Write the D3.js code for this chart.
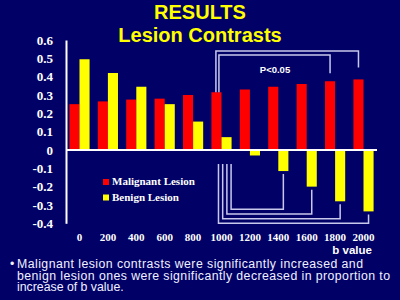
<!DOCTYPE html>
<html>
<head>
<meta charset="utf-8">
<script src="https://cdn.jsdelivr.net/npm/d3@7"></script>
<style>
  body { margin: 0; background: #000066; }
  svg { display: block; }
</style>
</head>
<body>
<div id="chart"></div>
<script>
// data
var bValues = ["0", "200", "400", "600", "800", "1000", "1200", "1400", "1600", "1800", "2000"];
var malignant = [0.25, 0.265, 0.275, 0.28, 0.3, 0.315, 0.33, 0.345, 0.36, 0.375, 0.385];
var benign = [0.495, 0.42, 0.345, 0.25, 0.155, 0.07, -0.03, -0.115, -0.2, -0.28, -0.335];
var yTicks = [-0.4, -0.3, -0.2, -0.1, 0, 0.1, 0.2, 0.3, 0.4, 0.5, 0.6];
var seriesNames = ["Malignant Lesion", "Benign Lesion"];
var seriesColors = ["#ff0000", "#ffff00"];
// significance brackets (from b value -> to b value)
var malignantPairs = [["1000", "2000"], ["1000", "1800"]];
var benignPairs = [["1000", "1400"], ["1000", "1600"], ["1000", "1800"], ["1000", "2000"]];

var width = 400, height = 300;

var svg = d3.select("#chart")
  .append("svg")
    .attr("width", width)
    .attr("height", height);

svg.append("rect")
  .attr("width", width)
  .attr("height", height)
  .attr("fill", "#000066");

// title
svg.append("text")
  .attr("x", 200).attr("y", 18.5)
  .attr("text-anchor", "middle")
  .attr("font-family", "Liberation Sans, Arial, sans-serif")
  .attr("font-weight", "bold")
  .attr("font-size", "20px")
  .attr("fill", "#ffff00")
  .text("RESULTS");
svg.append("text")
  .attr("x", 200).attr("y", 41.5)
  .attr("text-anchor", "middle")
  .attr("font-family", "Liberation Sans, Arial, sans-serif")
  .attr("font-weight", "bold")
  .attr("font-size", "20px")
  .attr("fill", "#ffff00")
  .text("Lesion Contrasts");

// scales
var x0 = d3.scaleBand()
  .domain(bValues)
  .range([66, 377])
  .paddingInner(0.29)
  .paddingOuter(0.12);

var x1 = d3.scaleBand()
  .domain([0, 1])
  .range([0, x0.bandwidth()]);

var y = d3.scaleLinear()
  .domain([-0.4, 0.6])
  .range([223.3, 40]);

var fmt = function(d) { return d === 0 ? "0" : d.toFixed(1); };

// y axis
var yAxis = svg.append("g")
  .attr("transform", "translate(66,0)")
  .call(d3.axisLeft(y).tickValues(yTicks).tickFormat(fmt).tickSize(0).tickPadding(13));
yAxis.select(".domain").attr("stroke", "#ffffff").attr("stroke-width", 2);
yAxis.selectAll("text")
  .attr("fill", "#ffffff")
  .attr("font-family", "Liberation Serif, Times New Roman, serif")
  .attr("font-weight", "bold")
  .attr("font-size", "13px");

// x axis labels (below plot)
var xAxis = svg.append("g")
  .attr("transform", "translate(0,223.3)")
  .call(d3.axisBottom(x0).tickSize(0).tickPadding(10));
xAxis.select(".domain").remove();
xAxis.selectAll("text")
  .attr("fill", "#ffffff")
  .attr("font-family", "Liberation Serif, Times New Roman, serif")
  .attr("font-weight", "bold")
  .attr("font-size", "11px");

// bars
var rows = bValues.map(function(b, i) {
  return { b: b, vals: [malignant[i], benign[i]] };
});

var groups = svg.selectAll(".grp")
  .data(rows)
  .enter().append("g")
    .attr("class", "grp")
    .attr("transform", function(d) { return "translate(" + x0(d.b) + ",0)"; });

groups.selectAll("rect")
  .data(function(d) { return d.vals.map(function(v, k) { return { k: k, v: v }; }); })
  .enter().append("rect")
    .attr("x", function(d) { return x1(d.k); })
    .attr("y", function(d) { return y(Math.max(0, d.v)); })
    .attr("width", x1.bandwidth())
    .attr("height", function(d) { return Math.abs(y(d.v) - y(0)); })
    .attr("fill", function(d) { return seriesColors[d.k]; });

// zero line
svg.append("line")
  .attr("x1", 66).attr("x2", x0.range()[1])
  .attr("y1", y(0)).attr("y2", y(0))
  .attr("stroke", "#ffffff")
  .attr("stroke-width", 2);

// brackets
var bracketColor = "#c8c8ec";
var idx = function(b) { return bValues.indexOf(b); };

malignantPairs.forEach(function(p, i) {
  var lx = x0(p[0]) + 4.5 + 3 * i;
  var top = 51 + 4 * i;
  var rx = x0(p[1]) + x1(0) + x1.bandwidth() / 2;
  var ly = y(malignant[idx(p[0])]);
  var ry = y(malignant[idx(p[1])]) - 12 + 4 * i;
  svg.append("path")
    .attr("d", "M" + lx + "," + ly + "V" + top + "H" + rx + "V" + ry)
    .attr("fill", "none")
    .attr("stroke", bracketColor)
    .attr("stroke-width", 1.5);
});

benignPairs.forEach(function(p, k) {
  var lx = x0(p[0]) + x0.bandwidth() - 0.5 - 4.2 * k;
  var top = 164;
  var bot = 209.3 + 4.67 * k;
  var rx = x0(p[1]) + x1(1) + x1.bandwidth() / 2;
  var ry = y(benign[idx(p[1])]) + 3;
  svg.append("path")
    .attr("d", "M" + lx + "," + top + "V" + bot + "H" + rx + "V" + ry)
    .attr("fill", "none")
    .attr("stroke", bracketColor)
    .attr("stroke-width", 1.5);
});

svg.append("text")
  .attr("x", 275).attr("y", 73)
  .attr("text-anchor", "middle")
  .attr("font-family", "Liberation Sans, Arial, sans-serif")
  .attr("font-weight", "bold")
  .attr("font-size", "9.5px")
  .attr("fill", "#ffffff")
  .text("P<0.05");

// legend
var legend = svg.append("g");
seriesNames.forEach(function(name, i) {
  var row = legend.append("g")
    .attr("transform", "translate(103," + (179 + i * 15.5) + ")");
  row.append("rect")
    .attr("width", 6).attr("height", 6)
    .attr("fill", seriesColors[i]);
  row.append("text")
    .attr("x", 9).attr("y", 6)
    .attr("font-family", "Liberation Serif, Times New Roman, serif")
    .attr("font-weight", "bold")
    .attr("font-size", "11px")
    .attr("fill", "#ffffff")
    .text(name);
});

// axis title
svg.append("text")
  .attr("x", 372).attr("y", 254)
  .attr("text-anchor", "end")
  .attr("font-family", "Liberation Sans, Arial, sans-serif")
  .attr("font-weight", "bold")
  .attr("font-size", "11.5px")
  .attr("fill", "#ffffff")
  .text("b value");

// note
var note = [
  "Malignant lesion contrasts were significantly increased and",
  "benign lesion ones were significantly decreased in proportion to",
  "increase of b value."
];
var noteWidths = [346, 373, null];
svg.append("text")
  .attr("x", 10).attr("y", 268.3)
  .attr("font-family", "Liberation Sans, Arial, sans-serif")
  .attr("font-size", "12.3px")
  .attr("fill", "#f0f0ff")
  .text("\u2022");
note.forEach(function(line, i) {
  var t = svg.append("text")
    .attr("x", 17).attr("y", 268.3 + i * 11.4)
    .attr("font-family", "Liberation Sans, Arial, sans-serif")
    .attr("font-size", "12.3px")
    .attr("fill", "#f0f0ff")
    .text(line);
  if (noteWidths[i]) {
    t.attr("textLength", noteWidths[i]).attr("lengthAdjust", "spacing");
  }
});
</script>
</body>
</html>
